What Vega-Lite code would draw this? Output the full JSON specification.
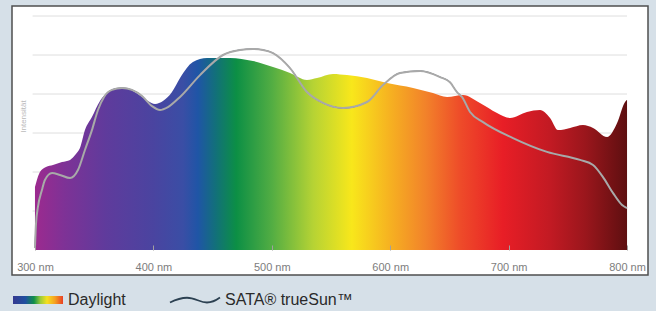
{
  "$schema": "https://vega.github.io/schema/vega-lite/v6.json",
  "width": 636,
  "height": 269,
  "autosize": {"type": "none"},
  "padding": {"left": 12, "top": 6, "right": 8, "bottom": 36},
  "background": "#d6e0e8",
  "config": {
    "view": {"fill": "#ffffff", "stroke": "#4f4f4f", "strokeWidth": 1.5},
    "font": "Liberation Sans"
  },
  "datasets": {
    "grid": [
      {"level": 20}, {"level": 40}, {"level": 60}, {"level": 80}, {"level": 100}, {"level": 120}
    ],
    "daylight": [
      {"nm": 300, "intensity": 32.3},
      {"nm": 304.2, "intensity": 40.0},
      {"nm": 309.3, "intensity": 42.6},
      {"nm": 315.2, "intensity": 43.6},
      {"nm": 322.8, "intensity": 45.1},
      {"nm": 329.6, "intensity": 46.2},
      {"nm": 334.6, "intensity": 49.2},
      {"nm": 338.0, "intensity": 52.3},
      {"nm": 342.2, "intensity": 61.5},
      {"nm": 348.1, "intensity": 68.2},
      {"nm": 354.9, "intensity": 76.4},
      {"nm": 361.7, "intensity": 81.0},
      {"nm": 370.1, "intensity": 83.1},
      {"nm": 378.5, "intensity": 82.6},
      {"nm": 387.0, "intensity": 80.0},
      {"nm": 395.4, "intensity": 76.4},
      {"nm": 401.4, "intensity": 74.9},
      {"nm": 408.1, "intensity": 76.4},
      {"nm": 415.7, "intensity": 81.0},
      {"nm": 422.5, "intensity": 88.2},
      {"nm": 433.4, "intensity": 96.4},
      {"nm": 445.3, "intensity": 98.5},
      {"nm": 464.7, "intensity": 98.5},
      {"nm": 484.1, "intensity": 96.9},
      {"nm": 501.0, "intensity": 93.8},
      {"nm": 515.4, "intensity": 90.8},
      {"nm": 529.7, "intensity": 87.2},
      {"nm": 538.2, "intensity": 88.2},
      {"nm": 551.7, "intensity": 90.3},
      {"nm": 563.5, "intensity": 89.7},
      {"nm": 580.4, "intensity": 88.2},
      {"nm": 597.3, "intensity": 85.6},
      {"nm": 619.3, "intensity": 83.1},
      {"nm": 636.1, "intensity": 80.5},
      {"nm": 648.0, "intensity": 78.5},
      {"nm": 661.5, "intensity": 79.5},
      {"nm": 675.8, "intensity": 75.4},
      {"nm": 690.2, "intensity": 70.3},
      {"nm": 701.2, "intensity": 67.7},
      {"nm": 715.5, "intensity": 70.8},
      {"nm": 726.5, "intensity": 71.8},
      {"nm": 735.0, "intensity": 67.7},
      {"nm": 741.7, "intensity": 61.5},
      {"nm": 751.9, "intensity": 62.6},
      {"nm": 762.8, "intensity": 64.1},
      {"nm": 771.3, "intensity": 62.6},
      {"nm": 783.1, "intensity": 57.9},
      {"nm": 791.6, "intensity": 65.1},
      {"nm": 798.3, "intensity": 75.9},
      {"nm": 800, "intensity": 77.0}
    ],
    "truesun": [
      {"nm": 300, "intensity": 1},
      {"nm": 300.8, "intensity": 12.8},
      {"nm": 302.5, "intensity": 22.1},
      {"nm": 305.9, "intensity": 30.8},
      {"nm": 308.4, "intensity": 35.9},
      {"nm": 314.4, "intensity": 39.5},
      {"nm": 321.1, "intensity": 38.5},
      {"nm": 329.6, "intensity": 36.9},
      {"nm": 336.3, "intensity": 41.0},
      {"nm": 342.2, "intensity": 51.3},
      {"nm": 348.1, "intensity": 61.5},
      {"nm": 353.2, "intensity": 71.8},
      {"nm": 358.3, "intensity": 78.5},
      {"nm": 365.0, "intensity": 82.1},
      {"nm": 373.5, "intensity": 83.1},
      {"nm": 381.9, "intensity": 82.1},
      {"nm": 390.4, "intensity": 79.0},
      {"nm": 398.8, "intensity": 73.8},
      {"nm": 405.6, "intensity": 71.8},
      {"nm": 412.3, "intensity": 73.3},
      {"nm": 422.5, "intensity": 78.5},
      {"nm": 439.4, "intensity": 89.7},
      {"nm": 458.8, "intensity": 100.0},
      {"nm": 473.1, "intensity": 102.6},
      {"nm": 484.1, "intensity": 103.1},
      {"nm": 492.6, "intensity": 102.6},
      {"nm": 501.0, "intensity": 101.0},
      {"nm": 515.4, "intensity": 93.3},
      {"nm": 529.7, "intensity": 81.0},
      {"nm": 543.2, "intensity": 75.4},
      {"nm": 560.1, "intensity": 72.8},
      {"nm": 580.4, "intensity": 75.9},
      {"nm": 593.9, "intensity": 84.6},
      {"nm": 608.3, "intensity": 90.8},
      {"nm": 625.2, "intensity": 91.8},
      {"nm": 642.1, "intensity": 88.7},
      {"nm": 650.5, "intensity": 86.0},
      {"nm": 656.4, "intensity": 81.0},
      {"nm": 660.6, "intensity": 78.5},
      {"nm": 667.4, "intensity": 70.8},
      {"nm": 678.4, "intensity": 65.6},
      {"nm": 703.7, "intensity": 57.4},
      {"nm": 732.4, "intensity": 50.3},
      {"nm": 760.3, "intensity": 46.2},
      {"nm": 771.3, "intensity": 43.6},
      {"nm": 779.7, "intensity": 37.4},
      {"nm": 788.2, "intensity": 29.2},
      {"nm": 795.8, "intensity": 23.1},
      {"nm": 800, "intensity": 21.5}
    ]
  },
  "layer": [
    {
      "data": {"name": "grid"},
      "mark": {"type": "rule", "color": "#dedede", "strokeWidth": 1},
      "encoding": {
        "y": {"field": "level", "type": "quantitative"},
        "x": {"datum": 298, "type": "quantitative"},
        "x2": {"datum": 800}
      }
    },
    {
      "data": {"name": "daylight"},
      "mark": {
        "type": "area",
        "interpolate": "monotone",
        "color": {
          "gradient": "linear",
          "x1": 0, "y1": 0, "x2": 1, "y2": 0,
          "stops": [
            {"offset": 0, "color": "#9c2a8f"},
            {"offset": 0.05, "color": "#7e3296"},
            {"offset": 0.12, "color": "#5f3b9c"},
            {"offset": 0.2, "color": "#4a44a0"},
            {"offset": 0.25, "color": "#3a4ea5"},
            {"offset": 0.275, "color": "#1f55a6"},
            {"offset": 0.305, "color": "#12707a"},
            {"offset": 0.34, "color": "#0c8f45"},
            {"offset": 0.4, "color": "#52ad43"},
            {"offset": 0.47, "color": "#b6d334"},
            {"offset": 0.535, "color": "#f8e71b"},
            {"offset": 0.6, "color": "#f6b121"},
            {"offset": 0.66, "color": "#f2822a"},
            {"offset": 0.72, "color": "#ee4a29"},
            {"offset": 0.79, "color": "#e81e26"},
            {"offset": 0.87, "color": "#c21a23"},
            {"offset": 0.93, "color": "#9a161c"},
            {"offset": 1, "color": "#5e0f10"}
          ]
        }
      },
      "encoding": {
        "x": {
          "field": "nm", "type": "quantitative",
          "scale": {"domain": [280.6, 817.7], "nice": false, "zero": false},
          "axis": {
            "values": [300, 400, 500, 600, 700, 800],
            "labelExpr": "datum.value + ' nm'",
            "offset": -30,
            "domain": false,
            "grid": false,
            "ticks": true,
            "tickSize": 5,
            "tickColor": "#a0a0a0",
            "tickWidth": 1,
            "labelFont": "Liberation Sans",
            "labelFontSize": 11,
            "labelColor": "#7d7d7d",
            "labelPadding": 11,
            "labelOverlap": false,
            "labelFlush": false,
            "labelBound": false,
            "title": null,
            "zindex": 1
          }
        },
        "y": {
          "field": "intensity", "type": "quantitative",
          "scale": {"domain": [-12.82, 125.13], "nice": false, "zero": false},
          "axis": {
            "orient": "left",
            "offset": -21,
            "domain": false,
            "ticks": false,
            "labels": false,
            "grid": false,
            "title": "Intensität",
            "titleFont": "Liberation Sans",
            "titleFontSize": 8,
            "titleFontWeight": "normal",
            "titleColor": "#b9b9b9",
            "titlePadding": 6,
            "titleY": 110
          }
        },
        "y2": {"datum": 0}
      }
    },
    {
      "data": {"name": "truesun"},
      "mark": {"type": "line", "interpolate": "monotone", "strokeWidth": 1},
      "encoding": {
        "x": {"field": "nm", "type": "quantitative"},
        "y": {"field": "intensity", "type": "quantitative"},
        "color": {
          "datum": "SATA® trueSun™",
          "type": "nominal",
          "scale": {"domain": ["Daylight", "SATA® trueSun™"], "range": ["transparent", "#2c4152"]},
          "legend": {
            "orient": "none",
            "legendX": -2,
            "legendY": 286,
            "direction": "horizontal",
            "title": null,
            "padding": 0,
            "columnPadding": 40,
            "labelFont": "Liberation Sans",
            "labelFontSize": 16,
            "labelColor": "#2a2a2a",
            "labelOffset": 42,
            "symbolSize": 100,
            "symbolStrokeWidth": 1.8,
            "encode": {
              "symbols": {
                "update": {
                  "shape": {"signal": "datum.value === 'Daylight' ? 'M-1,-0.8H9V0.8H-1Z' : 'M-1,0.5C0.2,-0.1 1.2,-0.45 2.4,-0.45C4,-0.45 5,0.5 6.4,0.5C7.5,0.5 8.3,0 9,-0.5'"},
                  "fill": [
                    {"test": "datum.value === 'Daylight'", "value": {
                      "gradient": "linear",
                      "x1": 0, "y1": 0, "x2": 1, "y2": 0,
                      "stops": [
                        {"offset": 0, "color": "#353a90"},
                        {"offset": 0.25, "color": "#2050a0"},
                        {"offset": 0.42, "color": "#10904a"},
                        {"offset": 0.55, "color": "#9ccc38"},
                        {"offset": 0.68, "color": "#f5e020"},
                        {"offset": 0.84, "color": "#f5a020"},
                        {"offset": 1, "color": "#e84025"}
                      ]
                    }},
                    {"value": "transparent"}
                  ],
                  "strokeWidth": {"value": 1.8},
                  "opacity": {"value": 1}
                }
              }
            }
          }
        }
      }
    },
    {
      "data": {"name": "truesun"},
      "mark": {"type": "line", "interpolate": "monotone", "strokeWidth": 2, "color": "#a9a9a9"},
      "encoding": {
        "x": {"field": "nm", "type": "quantitative"},
        "y": {"field": "intensity", "type": "quantitative"}
      }
    }
  ]
}
